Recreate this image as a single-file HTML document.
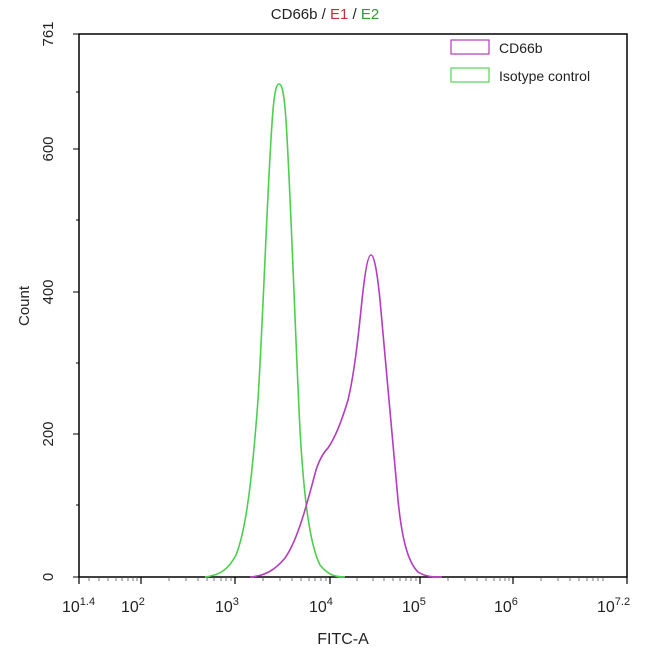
<!DOCTYPE html>
<html><head><meta charset="utf-8"><style>
body{margin:0;background:#fff}
svg{display:block}
text{font-family:"Liberation Sans",sans-serif;fill:#222}
</style></head><body>
<svg width="650" height="655" viewBox="0 0 650 655">
<text x="325" y="19" font-size="15" text-anchor="middle">CD66b / <tspan fill="#c0303a">E1</tspan> / <tspan fill="#2e9a3a">E2</tspan></text>
<rect x="79" y="34" width="548" height="543" fill="none" stroke="#000" stroke-width="1.5"/>
<!-- y ticks -->
<g stroke="#000" stroke-width="1">
<line x1="73" y1="577" x2="79" y2="577"/><line x1="73" y1="434" x2="79" y2="434"/><line x1="73" y1="292" x2="79" y2="292"/><line x1="73" y1="149" x2="79" y2="149"/><line x1="73" y1="34" x2="79" y2="34"/>
<line x1="76" y1="505" x2="79" y2="505"/><line x1="76" y1="363" x2="79" y2="363"/><line x1="76" y1="220" x2="79" y2="220"/><line x1="76" y1="92" x2="79" y2="92"/>
</g>
<g font-size="15" text-anchor="middle">
<text transform="translate(48,577) rotate(-90)" y="5">0</text>
<text transform="translate(48,434) rotate(-90)" y="5">200</text>
<text transform="translate(48,292) rotate(-90)" y="5">400</text>
<text transform="translate(48,149) rotate(-90)" y="5">600</text>
<text transform="translate(48,34) rotate(-90)" y="5">761</text>
<text transform="translate(24,306) rotate(-90)" y="5">Count</text>
</g>
<!-- x ticks -->
<g stroke="#000" stroke-width="1.2" id="xt">
<line x1="79" y1="577" x2="79" y2="584"/><line x1="141" y1="577" x2="141" y2="584"/><line x1="235" y1="577" x2="235" y2="584"/><line x1="330" y1="577" x2="330" y2="584"/><line x1="420" y1="577" x2="420" y2="584"/><line x1="513" y1="577" x2="513" y2="584"/><line x1="627" y1="577" x2="627" y2="584"/>
</g>
<g stroke="#555" stroke-width="0.8">
<line x1="89" y1="577" x2="89" y2="581"/><line x1="99" y1="577" x2="99" y2="581"/><line x1="108" y1="577" x2="108" y2="581"/><line x1="116" y1="577" x2="116" y2="581"/><line x1="122" y1="577" x2="122" y2="581"/><line x1="128" y1="577" x2="128" y2="581"/><line x1="133" y1="577" x2="133" y2="581"/><line x1="137" y1="577" x2="137" y2="581"/>
<line x1="169" y1="577" x2="169" y2="581"/><line x1="186" y1="577" x2="186" y2="581"/><line x1="198" y1="577" x2="198" y2="581"/><line x1="207" y1="577" x2="207" y2="581"/><line x1="214" y1="577" x2="214" y2="581"/><line x1="221" y1="577" x2="221" y2="581"/><line x1="226" y1="577" x2="226" y2="581"/><line x1="231" y1="577" x2="231" y2="581"/>
<line x1="263" y1="577" x2="263" y2="581"/><line x1="280" y1="577" x2="280" y2="581"/><line x1="292" y1="577" x2="292" y2="581"/><line x1="301" y1="577" x2="301" y2="581"/><line x1="309" y1="577" x2="309" y2="581"/><line x1="315" y1="577" x2="315" y2="581"/><line x1="321" y1="577" x2="321" y2="581"/><line x1="326" y1="577" x2="326" y2="581"/>
<line x1="357" y1="577" x2="357" y2="581"/><line x1="373" y1="577" x2="373" y2="581"/><line x1="384" y1="577" x2="384" y2="581"/><line x1="393" y1="577" x2="393" y2="581"/><line x1="400" y1="577" x2="400" y2="581"/><line x1="406" y1="577" x2="406" y2="581"/><line x1="411" y1="577" x2="411" y2="581"/><line x1="416" y1="577" x2="416" y2="581"/>
<line x1="448" y1="577" x2="448" y2="581"/><line x1="465" y1="577" x2="465" y2="581"/><line x1="477" y1="577" x2="477" y2="581"/><line x1="486" y1="577" x2="486" y2="581"/><line x1="494" y1="577" x2="494" y2="581"/><line x1="500" y1="577" x2="500" y2="581"/><line x1="505" y1="577" x2="505" y2="581"/><line x1="509" y1="577" x2="509" y2="581"/>
<line x1="541" y1="577" x2="541" y2="581"/><line x1="558" y1="577" x2="558" y2="581"/><line x1="570" y1="577" x2="570" y2="581"/><line x1="579" y1="577" x2="579" y2="581"/><line x1="587" y1="577" x2="587" y2="581"/><line x1="593" y1="577" x2="593" y2="581"/><line x1="598" y1="577" x2="598" y2="581"/><line x1="603" y1="577" x2="603" y2="581"/>
</g>
<g font-size="16">
<text x="62" y="612">10<tspan font-size="11" dy="-7">1.4</tspan></text>
<text x="121" y="612">10<tspan font-size="11" dy="-7">2</tspan></text>
<text x="215" y="612">10<tspan font-size="11" dy="-7">3</tspan></text>
<text x="309" y="612">10<tspan font-size="11" dy="-7">4</tspan></text>
<text x="402" y="612">10<tspan font-size="11" dy="-7">5</tspan></text>
<text x="494" y="612">10<tspan font-size="11" dy="-7">6</tspan></text>
<text x="597" y="612">10<tspan font-size="11" dy="-7">7.2</tspan></text>
</g>
<text x="343" y="644" font-size="16" text-anchor="middle">FITC-A</text>
<!-- legend -->
<rect x="451" y="40" width="38" height="14" fill="none" stroke="#b23bbb" stroke-width="1.2"/>
<text x="499" y="53" font-size="14">CD66b</text>
<rect x="451" y="68" width="38" height="14" fill="none" stroke="#55d455" stroke-width="1.2"/>
<text x="499" y="81" font-size="14">Isotype control</text>
<!-- curves -->
<path d="M205,577 C220,575 228,570 236,555 C246,530 252,480 258,400 C264,300 268,170 273,110 C275,88 277,84 279,84 C282,84 284,92 286,120 C291,200 295,330 300,430 C304,500 310,545 320,565 C328,575 335,577 345,577" fill="none" stroke="#4cd04c" stroke-width="1.6"/>
<path d="M250,577 C265,576 275,570 285,558 C298,540 308,500 316,470 C320,458 324,452 328,448 C335,438 342,420 348,400 C354,375 358,340 362,300 C365,272 368,255 371,255 C374,255 377,270 380,300 C386,360 392,440 398,500 C402,540 408,562 418,572 C426,577 433,577 442,577" fill="none" stroke="#b53bc0" stroke-width="1.6"/>
</svg>
</body></html>
